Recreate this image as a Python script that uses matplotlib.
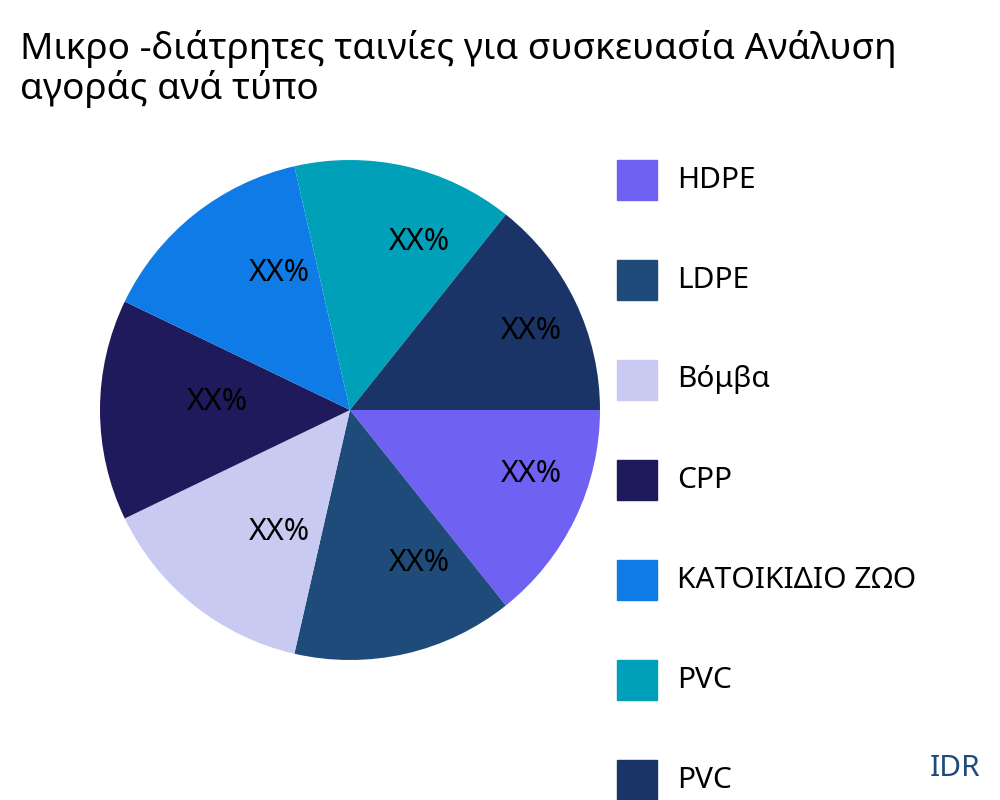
import matplotlib
matplotlib.use('Agg')
import matplotlib.pyplot as plt
from matplotlib.patches import Rectangle

plt.rcParams['font.family'] = 'Noto Sans'

TITLE = 'Μικρο -διάτρητες ταινίες για συσκευασία Ανάλυση\nαγοράς ανά τύπο'
LABELS = ['HDPE', 'LDPE', 'Βόμβα', 'CPP', 'ΚΑΤΟΙΚΙΔΙΟ ΖΩΟ', 'PVC', 'PVC']
VALUES = [1, 1, 1, 1, 1, 1, 1]
SLICE_TEXT = ['XX%'] * 7
COLORS = ['#6F61F2', '#1F4B7B', '#C9CAF2', '#1E1A5B', '#0F7BE6', '#00A0B9', '#1A3467']

fig = plt.figure(figsize=(10, 8), dpi=100)
# pie axes: center (350,410) radius 250 px
ax = fig.add_axes([100 / 1000, 1 - 660 / 800, 500 / 1000, 500 / 800])
wedges, texts = ax.pie(VALUES, colors=COLORS, startangle=0, counterclock=False,
                       labels=SLICE_TEXT, labeldistance=0.66,
                       textprops=dict(fontsize=22, color='black', ha='center', va='center'))
for t in texts:
    t.set_ha('center')
    x, y = t.get_position()
    t.set_position((x + 0.13, y + 0.03))
ax.set_xlim(-1, 1)
ax.set_ylim(-1, 1)
ax.set_aspect('equal')
ax.axis('off')

fig.text(20 / 1000, 1 - 69 / 800, TITLE, fontsize=26.6, va='center', ha='left', linespacing=1.05)

for i, (lab, col) in enumerate(zip(LABELS, COLORS)):
    y = 180 + i * 100
    fig.patches.append(Rectangle((617 / 1000, 1 - (y + 20) / 800), 40 / 1000, 40 / 800,
                                 transform=fig.transFigure, color=col))
    fig.text(677 / 1000, 1 - y / 800, lab, fontsize=21.5, va='center', ha='left')

fig.text(980 / 1000, 1 - 768 / 800, 'IDR', fontsize=21.5, color='#1F4B7B', ha='right', va='center')

fig.savefig('out.png', dpi=100)
